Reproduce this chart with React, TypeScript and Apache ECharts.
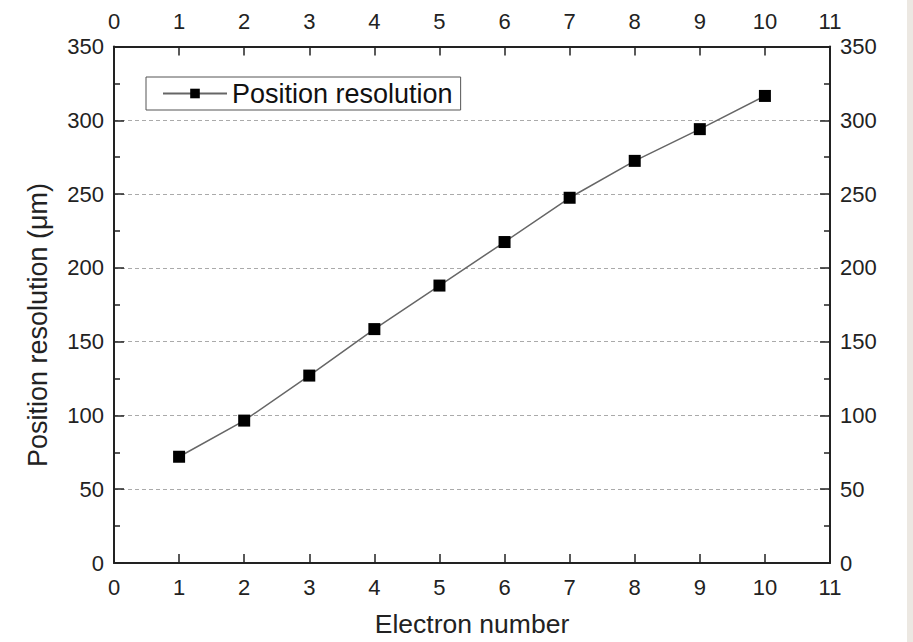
import React, { useEffect, useRef } from "react";
import * as echarts from "echarts";

// Electron number on the x axis, position resolution (µm) on the y axis
const electronNumbers = [1, 2, 3, 4, 5, 6, 7, 8, 9, 10];
const resolutionUm = [72, 96.5, 127, 158.5, 188, 217.5, 247.5, 272.5, 294, 316.5];

const seriesName = "Position resolution";
const xTitle = "Electron number";
const yTitle = "Position resolution (\u03bcm)";

const FONT = "'Liberation Sans', Arial, Helvetica, sans-serif";

export default function App() {
  const ref = useRef<HTMLDivElement>(null);

  useEffect(() => {
    if (!ref.current) return;
    const chart = echarts.init(ref.current, undefined, { renderer: "svg" });

    const axisLine = { show: true, onZero: false, lineStyle: { color: "#222", width: 2 } };
    const tickStyle = { color: "#222", width: 1.5 };
    const labelStyle = { color: "#222", fontSize: 22, fontFamily: FONT };

    const xAxisBase = {
      type: "value" as const,
      min: 0,
      max: 11,
      interval: 1,
      axisLine,
      axisTick: { show: true, inside: true, length: 9, lineStyle: tickStyle },
      splitLine: { show: false },
    };

    const yAxisBase = {
      type: "value" as const,
      min: 0,
      max: 350,
      interval: 50,
      axisLine,
      axisTick: { show: true, inside: true, length: 10, lineStyle: tickStyle },
      minorTick: { show: true, splitNumber: 2, length: 6, lineStyle: tickStyle },
      axisLabel: { ...labelStyle, margin: 10 },
    };

    chart.setOption({
      animation: false,
      backgroundColor: "#ffffff",
      textStyle: { fontFamily: FONT },
      grid: { left: 114, right: 83, top: 46.5, bottom: 75.5, containLabel: false },
      legend: {
        show: true,
        left: 146,
        top: 77,
        orient: "horizontal",
        borderColor: "#555",
        borderWidth: 1,
        padding: [3, 8, 3, 16],
        itemWidth: 64,
        itemHeight: 12,
        itemGap: 5,
        textStyle: { fontSize: 27, color: "#111", fontFamily: FONT },
        data: [seriesName],
      },
      xAxis: [
        {
          ...xAxisBase,
          position: "bottom",
          axisLabel: { ...labelStyle, margin: 13 },
          name: xTitle,
          nameLocation: "middle",
          nameGap: 47,
          nameTextStyle: { fontSize: 26.5, color: "#222", fontFamily: FONT },
        },
        { ...xAxisBase, position: "top", axisLabel: { ...labelStyle, margin: 14 } },
      ],
      yAxis: [
        {
          ...yAxisBase,
          position: "left",
          splitLine: {
            show: true,
            lineStyle: { color: "#aaa", type: [4, 3], width: 1 },
          },
        },
        { ...yAxisBase, position: "right", splitLine: { show: false } },
      ],
      graphic: [
        {
          type: "text",
          x: 38,
          y: 325,
          rotation: Math.PI / 2,
          style: {
            text: yTitle,
            fontSize: 27,
            fontFamily: FONT,
            fill: "#222",
            align: "center",
            verticalAlign: "middle",
          },
        },
        {
          type: "rect",
          shape: { x: 907, y: 0, width: 6, height: 642 },
          style: { fill: "#ece8e2" },
          silent: true,
        },
      ],
      series: [
        {
          name: seriesName,
          type: "line",
          xAxisIndex: 0,
          yAxisIndex: 0,
          data: electronNumbers.map((n, i) => [n, resolutionUm[i]]),
          symbol: "rect",
          symbolSize: 12,
          showAllSymbol: true,
          lineStyle: { color: "#666", width: 1.5 },
          itemStyle: { color: "#000", borderColor: "#000", borderWidth: 0 },
          emphasis: { disabled: true },
        },
      ],
    });

    return () => chart.dispose();
  }, []);

  return (
    <div
      ref={ref}
      style={{ position: "absolute", left: 0, top: 0, width: 913, height: 642 }}
    />
  );
}
